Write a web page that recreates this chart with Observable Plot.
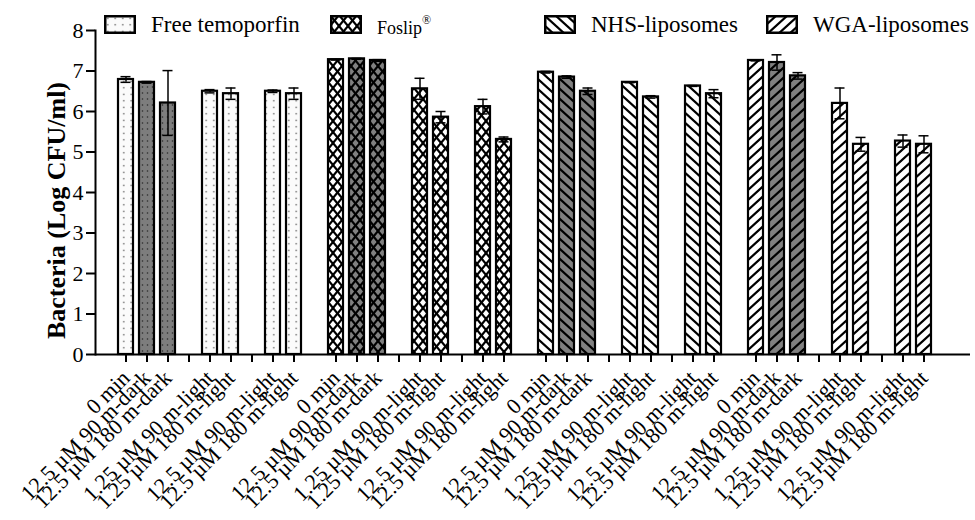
<!DOCTYPE html>
<html><head><meta charset="utf-8">
<script src="https://cdn.jsdelivr.net/npm/d3@7"></script>
<script src="https://cdn.jsdelivr.net/npm/@observablehq/plot@0.6"></script>
<style>
body{margin:0;background:#fff;}
#wrap{position:relative;width:975px;height:520px;font-family:"Liberation Serif","Times New Roman",serif;color:#000;}
#legend{position:absolute;top:0;left:0;width:975px;height:40px;}
.item{position:absolute;top:15px;height:19px;display:flex;align-items:center;font-size:23px;white-space:nowrap;}
.item svg{margin-right:15px;flex:none}
.item sup{font-size:12px;position:relative;top:-3px}
.small{font-size:18px;}
</style></head><body><div id="wrap"><div id="legend"></div></div>
<script>
// ---- data ----
const formulations = ["Free temoporfin", "Foslip®", "NHS-liposomes", "WGA-liposomes"];
const conditions = ["0 min", "12.5 µM 90 m-dark", "12.5 µM 180 m-dark", "1.25 µM 90 m-light", "1.25 µM 180 m-light", "12.5 µM 90 m-light", "12.5 µM 180 m-light"];
const darkConditions = ["12.5 µM 90 m-dark", "12.5 µM 180 m-dark"];
// slot layout inside one formulation group (null = empty ticked slot)
const slotLayout = ["0 min", "12.5 µM 90 m-dark", "12.5 µM 180 m-dark", null, "1.25 µM 90 m-light", "1.25 µM 180 m-light", null, "12.5 µM 90 m-light", "12.5 µM 180 m-light"];
const freeMeans   = [6.79, 6.72, 6.21, 6.50, 6.44, 6.50, 6.44];
const freeErr     = [0.07, 0.02, 0.80, 0.04, 0.14, 0.03, 0.14];
const foslipMeans = [7.28, 7.30, 7.26, 6.56, 5.86, 6.12, 5.31];
const foslipErr   = [0.01, 0.01, 0.02, 0.26, 0.14, 0.18, 0.06];
const nhsMeans    = [6.97, 6.85, 6.50, 6.72, 6.36, 6.63, 6.44];
const nhsErr      = [0.02, 0.03, 0.08, 0.01, 0.03, 0.01, 0.10];
const wgaMeans    = [7.26, 7.21, 6.88, 6.20, 5.19, 5.27, 5.19];
const wgaErr      = [0.01, 0.19, 0.08, 0.38, 0.17, 0.15, 0.21];
const yTicks = [0, 1, 2, 3, 4, 5, 6, 7, 8];
const patternNames = ["dots", "cross", "back", "fwd"];

const means = [freeMeans, foslipMeans, nhsMeans, wgaMeans];
const errs = [freeErr, foslipErr, nhsErr, wgaErr];

// ---- build slots / rows ----
const domain = [], tickSlots = [], labelOf = new Map(), rows = [];
formulations.forEach((f, gi) => {
  if (gi > 0) domain.push(`sep${gi}`);
  slotLayout.forEach((c, si) => {
    const key = `${gi}:${si}`;
    domain.push(key); tickSlots.push(key);
    labelOf.set(key, c == null ? "" : c);
    if (c != null) {
      const ci = conditions.indexOf(c);
      const dark = darkConditions.includes(c);
      rows.push({slot: key, value: means[gi][ci], err: errs[gi][ci],
        fill: `url(#${patternNames[gi]}-${dark ? "dark" : "light"})`});
    }
  });
});

// ---- patterns ----
const NS = "http://www.w3.org/2000/svg";
function el(name, attrs, parent) {
  const e = document.createElementNS(NS, name);
  for (const k in attrs) e.setAttribute(k, attrs[k]);
  if (parent) parent.appendChild(e);
  return e;
}
function makeDefs() {
  const defs = el("defs", {});
  const bgs = {light: "#ffffff", dark: "#808080"};
  for (const tone of ["light", "dark"]) {
    // dots
    {
      const w = tone === "light" ? 7.5 : 5, h = tone === "light" ? 6.5 : 6;
      const p = el("pattern", {id: `dots-${tone}`, patternUnits: "userSpaceOnUse", width: w, height: h}, defs);
      el("rect", {width: w, height: h, fill: tone === "light" ? "#fbfbfb" : "#7d7d7d"}, p);
      el("circle", {cx: w / 2, cy: h / 2, r: 0.8, fill: tone === "light" ? "#555" : "#2a2a2a"}, p);
    }
    const diag = (w, h) => `M${-w},${-h}L${2*w},${2*h}M0,${-h}L${2*w},${h}M${-w},0L${w},${2*h}`;
    // crosshatch
    {
      const w = 9, h = 11;
      const p = el("pattern", {id: `cross-${tone}`, patternUnits: "userSpaceOnUse", width: w, height: h}, defs);
      el("rect", {width: w, height: h, fill: bgs[tone]}, p);
      el("path", {d: diag(w, h), stroke: "#000", "stroke-width": 2.2, fill: "none"}, p);
      const g = el("g", {transform: `translate(${w},0) scale(-1,1)`}, p);
      el("path", {d: diag(w, h), stroke: "#000", "stroke-width": 2.2, fill: "none"}, g);
    }
    // back-slash hatch
    {
      const w = 11, h = 10;
      const p = el("pattern", {id: `back-${tone}`, patternUnits: "userSpaceOnUse", width: w, height: h}, defs);
      el("rect", {width: w, height: h, fill: bgs[tone]}, p);
      el("path", {d: diag(w, h), stroke: "#000", "stroke-width": 2.2, fill: "none"}, p);
    }
    // forward-slash hatch
    {
      const w = 11, h = 10;
      const p = el("pattern", {id: `fwd-${tone}`, patternUnits: "userSpaceOnUse", width: w, height: h}, defs);
      el("rect", {width: w, height: h, fill: bgs[tone]}, p);
      const g = el("g", {transform: `translate(${w},0) scale(-1,1)`}, p);
      el("path", {d: diag(w, h), stroke: "#000", "stroke-width": 2.2, fill: "none"}, g);
    }
  }
  return defs;
}

// ---- chart ----
const svg = Plot.plot({
  width: 975, height: 520,
  marginLeft: 95, marginRight: 5, marginTop: 30, marginBottom: 166,
  style: {fontFamily: "'Liberation Serif', 'Times New Roman', serif", color: "#000", background: "#fff", overflow: "visible"},
  x: {type: "band", domain, paddingInner: 0.3, paddingOuter: 0.89, align: 0.369, axis: null},
  y: {domain: [0, 8], axis: null},
  color: {type: "identity"},
  marks: [
    Plot.barY(rows, {x: "slot", y: "value", fill: "fill", stroke: "#000", strokeWidth: 2.2}),
    Plot.ruleX(rows, {x: "slot", y1: d => d.value - d.err, y2: d => d.value + d.err, stroke: "#000", strokeWidth: 1.5}),
    Plot.tickY(rows, {x: "slot", y: d => d.value + d.err, stroke: "#000", strokeWidth: 1.5, insetLeft: 2.5, insetRight: 2.5}),
    Plot.tickY(rows, {x: "slot", y: d => d.value - d.err, stroke: "#000", strokeWidth: 1.5, insetLeft: 2.5, insetRight: 2.5}),
    Plot.axisY({ticks: yTicks, tickSize: 9, tickPadding: 3, strokeWidth: 2, fontSize: 22, label: null}),
    Plot.text(["Bacteria (Log CFU/ml)"], {frameAnchor: "left", dx: -39, dy: 18, rotate: -90, fontSize: 26, fontWeight: "bold", textAnchor: "middle"}),
    Plot.axisX({ticks: tickSlots, tickFormat: d => labelOf.get(d), tickRotate: -45, tickSize: 8, tickPadding: 12, strokeWidth: 2, fontSize: 22, label: null}),
    Plot.frame({anchor: "left", strokeWidth: 2}),
    Plot.ruleY([0], {strokeWidth: 2})
  ]
});
svg.insertBefore(makeDefs(), svg.firstChild);
document.getElementById("wrap").appendChild(svg);
svg.style.position = "absolute"; svg.style.left = "0"; svg.style.top = "0";

// ---- legend (HTML overlay) ----
const legendLeft = [104, 330, 544, 766];
const legend = document.getElementById("legend");
legend.style.zIndex = 2;
formulations.forEach((f, i) => {
  const item = document.createElement("div");
  item.className = "item";
  item.style.left = legendLeft[i] + "px";
  const sw = el("svg", {width: 32, height: 19});
  el("rect", {x: 1.25, y: 1.25, width: 29.5, height: 16.5, fill: `url(#${patternNames[i]}-light)`, stroke: "#000", "stroke-width": 2.5}, sw);
  item.appendChild(sw);
  const span = document.createElement("span");
  if (f.includes("®")) { span.className = "small"; span.innerHTML = f.replace("®", "<sup>®</sup>"); span.style.marginTop = "6px"; }
  else span.textContent = f;
  item.appendChild(span);
  legend.appendChild(item);
});
</script></body></html>
